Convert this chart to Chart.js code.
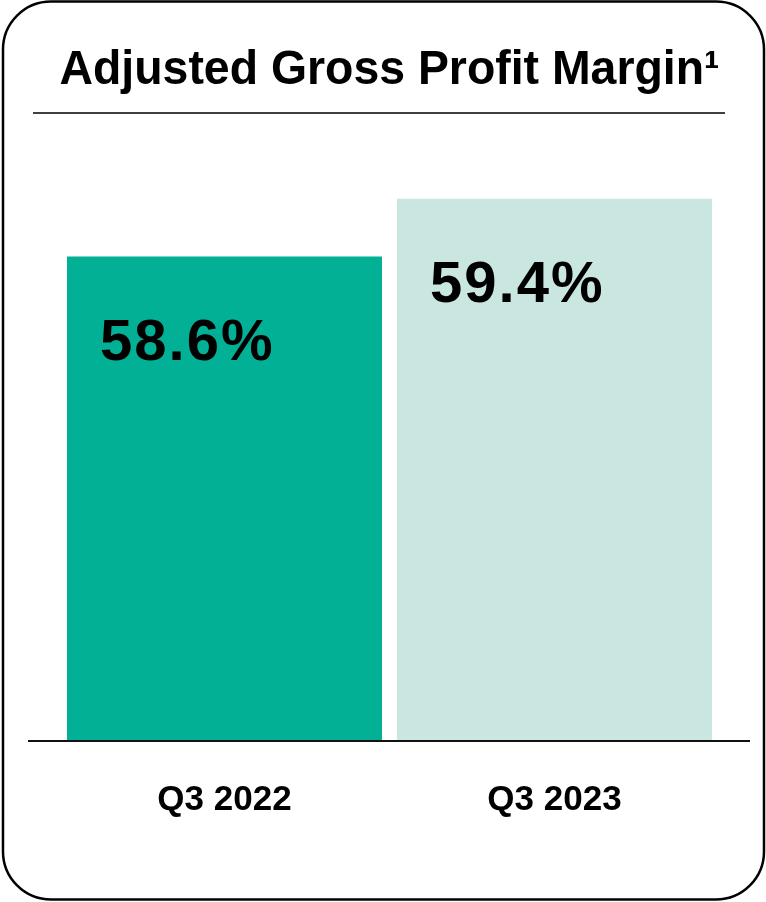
<!DOCTYPE html>
<html>
<head>
<meta charset="utf-8">
<title>Adjusted Gross Profit Margin</title>
<script src="https://cdn.jsdelivr.net/npm/chart.js@4.4.0/dist/chart.umd.min.js"></script>
<style>
    html, body { margin: 0; padding: 0; background: #fff; }
    .wrap { position: relative; width: 766px; height: 902px; }
</style>
</head>
<body>
<div class="wrap"><canvas id="marginChart"></canvas></div>
<script>
var categories = ['Q3 2022', 'Q3 2023'];
var margins = [58.6, 59.4];

// card outline, rule under the heading and the baseline
var cardFrame = {
    id: 'cardFrame',
    afterDraw: function(chart) {
        var ctx = chart.ctx;
        var area = chart.chartArea;
        ctx.save();
        ctx.strokeStyle = '#000';
        ctx.lineWidth = 2.5;
        ctx.beginPath();
        ctx.roundRect(3, 1.5, 761, 898, 48);
        ctx.stroke();

        ctx.lineWidth = 1.5;
        ctx.beginPath();
        ctx.moveTo(33, 113);
        ctx.lineTo(725, 113);
        ctx.stroke();

        ctx.strokeStyle = '#111';
        ctx.lineWidth = 2;
        ctx.beginPath();
        ctx.moveTo(area.left - 31.5, area.bottom);
        ctx.lineTo(area.right + 30.5, area.bottom);
        ctx.stroke();
        ctx.restore();
    }
};

// value written inside the top-left of each bar
var barValues = {
    id: 'barValues',
    afterDatasetsDraw: function(chart) {
        var ctx = chart.ctx;
        var meta = chart.getDatasetMeta(0);
        ctx.save();
        ctx.fillStyle = '#000';
        ctx.font = 'bold 58px "Liberation Sans", Arial, sans-serif';
        ctx.letterSpacing = '2px';
        ctx.textAlign = 'left';
        ctx.textBaseline = 'alphabetic';
        meta.data.forEach(function(bar, i) {
            var left = bar.x - bar.width / 2;
            ctx.fillText(margins[i].toFixed(1) + '%', left + 33, bar.y + 103);
        });
        ctx.restore();
    }
};

document.addEventListener('DOMContentLoaded', function() {
    var ctx = document.getElementById('marginChart').getContext('2d');
    var chart = new Chart(ctx, {
        type: 'bar',
        data: {
            labels: categories,
            datasets: [{
                data: margins,
                backgroundColor: ['#02b096', '#cae6e0'],
                borderWidth: 0,
                categoryPercentage: 1,
                barPercentage: 0.9545
            }]
        },
        options: {
            responsive: true,
            maintainAspectRatio: false,
            animation: false,
            layout: {
                padding: { left: 59.5, right: 46.5, top: 0, bottom: 43 }
            },
            scales: {
                x: {
                    grid: { display: false, drawTicks: false },
                    border: { display: false },
                    ticks: {
                        color: '#000',
                        padding: 38,
                        font: { family: '"Liberation Sans", Arial, sans-serif', size: 35, weight: 'bold' }
                    }
                },
                y: {
                    display: false,
                    min: 51.9,
                    max: 60.3
                }
            },
            plugins: {
                legend: { display: false },
                tooltip: { enabled: false },
                title: {
                    display: true,
                    text: 'Adjusted Gross Profit Margin\u00B9',
                    color: '#000',
                    font: { family: '"Liberation Sans", Arial, sans-serif', size: 48, weight: 'bold' },
                    padding: { top: 42, bottom: 34 }
                }
            }
        },
        plugins: [cardFrame, barValues]
    });
});
</script>
</body>
</html>
